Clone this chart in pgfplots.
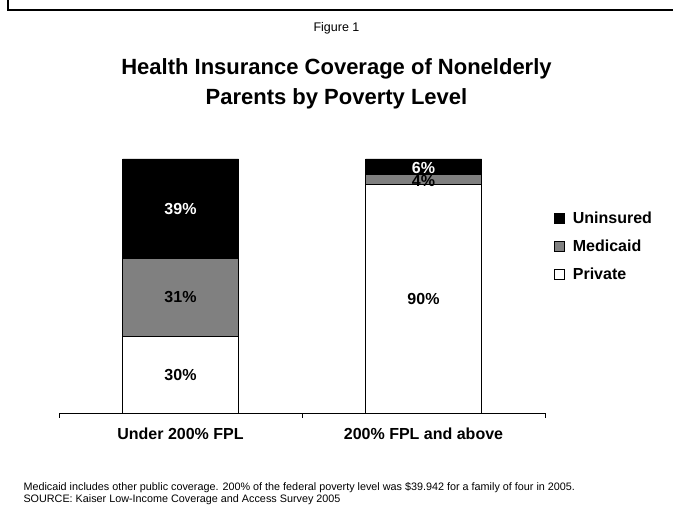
\documentclass[border=0pt]{standalone}
\usepackage{pgfplots}
\pgfplotsset{compat=1.18}
\usepackage{fontspec}
\setmainfont{Liberation Sans}
\definecolor{medgray}{RGB}{128,128,128}
\begin{document}
\begin{tikzpicture}[x=1pt,y=1pt]
\path[use as bounding box] (0,0) rectangle (673,513);
\draw[line width=2pt] (8,513) -- (8,503) -- (673,503);
\node[font=\fontsize{12.5}{15}\selectfont] at (336.5,485) {Figure 1};
\node[font=\bfseries\fontsize{22}{30}\selectfont, align=center] at (336.5,429) {Health Insurance Coverage of Nonelderly\\Parents by Poverty Level};
\begin{axis}[
  at={(59pt,100pt)}, anchor=south west, scale only axis,
  width=486pt, height=254pt,
  ybar stacked, bar width=116pt,
  xmin=-0.5, xmax=1.5, ymin=0, ymax=100,
  axis y line=none, axis x line=bottom,
  x axis line style={-, black, line width=0.75pt},
  xtick={0,1}, xticklabels={Under 200\% FPL, 200\% FPL and above},
  major tick length=0pt,
  extra x ticks={-0.5,0.5,1.5}, extra x tick labels={},
  extra x tick style={major tick length=5pt, tick align=outside, tick style={black, line width=0.75pt}},
  xticklabel style={anchor=base, yshift=-27pt, font=\bfseries\fontsize{16}{19}\selectfont},
  legend image code/.code={\draw[#1, line width=0.6pt] (0pt,-5pt) rectangle (10pt,5pt); \path (16pt,0pt);},
  reverse legend,
  legend cell align=left,
  legend style={at={(1,0.80)}, anchor=north west, xshift=9pt, draw=none, fill=none, inner sep=0pt,
    font=\bfseries\fontsize{16}{19}\selectfont, row sep=11pt},
]
\addplot[fill=white, draw=black, line width=0.75pt] coordinates {(0,30) (1,90)};
\addplot[fill=medgray, draw=black, line width=0.75pt] coordinates {(0,31) (1,4)};
\addplot[fill=black, draw=black, line width=0.75pt] coordinates {(0,39) (1,6)};
\legend{Private, Medicaid, Uninsured}
\end{axis}
\begin{axis}[
  at={(59pt,100pt)}, anchor=south west, scale only axis,
  width=486pt, height=254pt,
  xmin=-0.5, xmax=1.5, ymin=0, ymax=100, hide axis,
  nodes near coords, point meta=explicit symbolic,
  nodes near coords style={anchor=center, font=\bfseries\fontsize{16}{19}\selectfont},
]
\addplot[only marks, mark=none, nodes near coords style={text=black}] coordinates {(0,45.5)[31\%] (0,15)[30\%] (1,91.5)[4\%] (1,45)[90\%]};
\addplot[only marks, mark=none, nodes near coords style={text=white}] coordinates {(0,80.5)[39\%] (1,96.5)[6\%]};
\end{axis}
\node[anchor=base west, font=\fontsize{10.8}{13}\selectfont] at (20,22) {Medicaid includes other public coverage. 200\% of the federal poverty level was \$39.942 for a family of four in 2005.};
\node[anchor=base west, font=\fontsize{10.8}{13}\selectfont] at (20,10) {SOURCE: Kaiser Low-Income Coverage and Access Survey 2005};
\end{tikzpicture}
\end{document}
